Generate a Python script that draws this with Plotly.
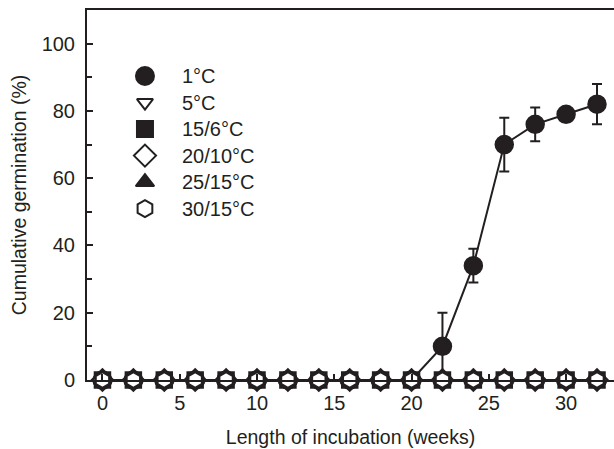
import plotly.graph_objects as go

weeks = [0, 2, 4, 6, 8, 10, 12, 14, 16, 18, 20, 22, 24, 26, 28, 30, 32]
g_1C = [0, 0, 0, 0, 0, 0, 0, 0, 0, 0, 0, 10, 34, 70, 76, 79, 82]
e_1C = [0, 0, 0, 0, 0, 0, 0, 0, 0, 0, 0, 10, 5, 8, 5, 1, 6]
g_5C = [0, 0, 0, 0, 0, 0, 0, 0, 0, 0, 0, 0, 0, 0, 0, 0, 0]
g_15_6C = [0, 0, 0, 0, 0, 0, 0, 0, 0, 0, 0, 0, 0, 0, 0, 0, 0]
g_20_10C = [0, 0, 0, 0, 0, 0, 0, 0, 0, 0, 0, 0, 0, 0, 0, 0, 0]
g_25_15C = [0, 0, 0, 0, 0, 0, 0, 0, 0, 0, 0, 0, 0, 0, 0, 0, 0]
g_30_15C = [0, 0, 0, 0, 0, 0, 0, 0, 0, 0, 0, 0, 0, 0, 0, 0, 0]

names = ["1°C", "5°C", "15/6°C", "20/10°C", "25/15°C", "30/15°C"]
series = [g_1C, g_5C, g_15_6C, g_20_10C, g_25_15C, g_30_15C]
symbols = ["circle", "triangle-down-open", "square", "diamond-open", "triangle-up", "hexagon-open"]
sizes = [17, 14, 15, 16, 15, 16]
leg_sizes = [18, 14, 16, 17, 16, 17]

x_ticks = [0, 5, 10, 15, 20, 25, 30]
y_ticks = [0, 20, 40, 60, 80, 100]

INK = "#231f20"
FONT = "Liberation Sans, Arial, Helvetica, sans-serif"


def marker_style(sym, sz, lw):
    filled = not sym.endswith("-open")
    return dict(symbol=sym if filled else sym.replace("-open", ""),
                size=sz, color=INK if filled else "white",
                line=dict(color=INK, width=lw))


fig = go.Figure()

for i, (name, ys, sym, sz) in enumerate(zip(names, series, symbols, sizes)):
    kw = {}
    if i == 0:
        kw["error_y"] = dict(type="data", array=e_1C, visible=True,
                             color=INK, thickness=2, width=5)
    fig.add_trace(go.Scatter(
        x=weeks, y=ys, mode="lines+markers", name=name, showlegend=False,
        line=dict(color=INK, width=2), marker=marker_style(sym, sz, 2.5),
        cliponaxis=False, **kw))

# key drawn on an invisible overlay axis (0..1 in plot-area fractions)
key_x = 0.110
key_text_x = 0.1765
key_top = 0.8216
key_step = 0.0717
for j, (name, sym, sz) in enumerate(zip(names, symbols, leg_sizes)):
    yy = key_top - j * key_step
    fig.add_trace(go.Scatter(
        x=[key_x], y=[yy], mode="markers", name=name, showlegend=False,
        xaxis="x2", yaxis="y2", marker=marker_style(sym, sz, 2),
        hoverinfo="skip", cliponaxis=False))
    fig.add_annotation(x=key_text_x, y=yy, xref="x2", yref="y2", text=name,
                       showarrow=False, xanchor="left", yanchor="middle",
                       font=dict(family=FONT, size=20, color=INK))

fig.update_layout(
    width=614, height=449,
    margin=dict(l=87, r=0, t=10, b=69),
    paper_bgcolor="white", plot_bgcolor="white",
    font=dict(family=FONT, size=20, color=INK),
    showlegend=False,
    xaxis=dict(range=[-1, 33.1], tickvals=x_ticks, ticks="inside", ticklen=6,
               tickwidth=1.5, tickcolor=INK, showline=True, linewidth=2,
               linecolor=INK, mirror=True, showgrid=False, zeroline=False,
               ticklabelstandoff=4,
               title=dict(text="Length of incubation (weeks)", standoff=17,
                          font=dict(size=19.5)),
               tickfont=dict(size=20)),
    yaxis=dict(range=[0, 110], tickvals=y_ticks, ticks="inside", ticklen=6,
               tickwidth=1.5, tickcolor=INK, showline=True, linewidth=2,
               linecolor=INK, showgrid=False, zeroline=False,
               ticklabelstandoff=6,
               minor=dict(tickvals=[10, 30, 50, 70, 90], ticks="inside",
                          ticklen=5, tickwidth=1.5, tickcolor=INK),
               title=dict(text="Cumulative germination (%)", standoff=10,
                          font=dict(size=19.5)),
               tickfont=dict(size=20)),
    xaxis2=dict(overlaying="x", anchor="y2", range=[0, 1], visible=False),
    yaxis2=dict(overlaying="y", anchor="x2", range=[0, 1], visible=False),
)

fig.write_html("out.html", config={"displayModeBar": False},
               post_script="document.body.style.margin='0px';document.body.style.overflow='hidden';")
